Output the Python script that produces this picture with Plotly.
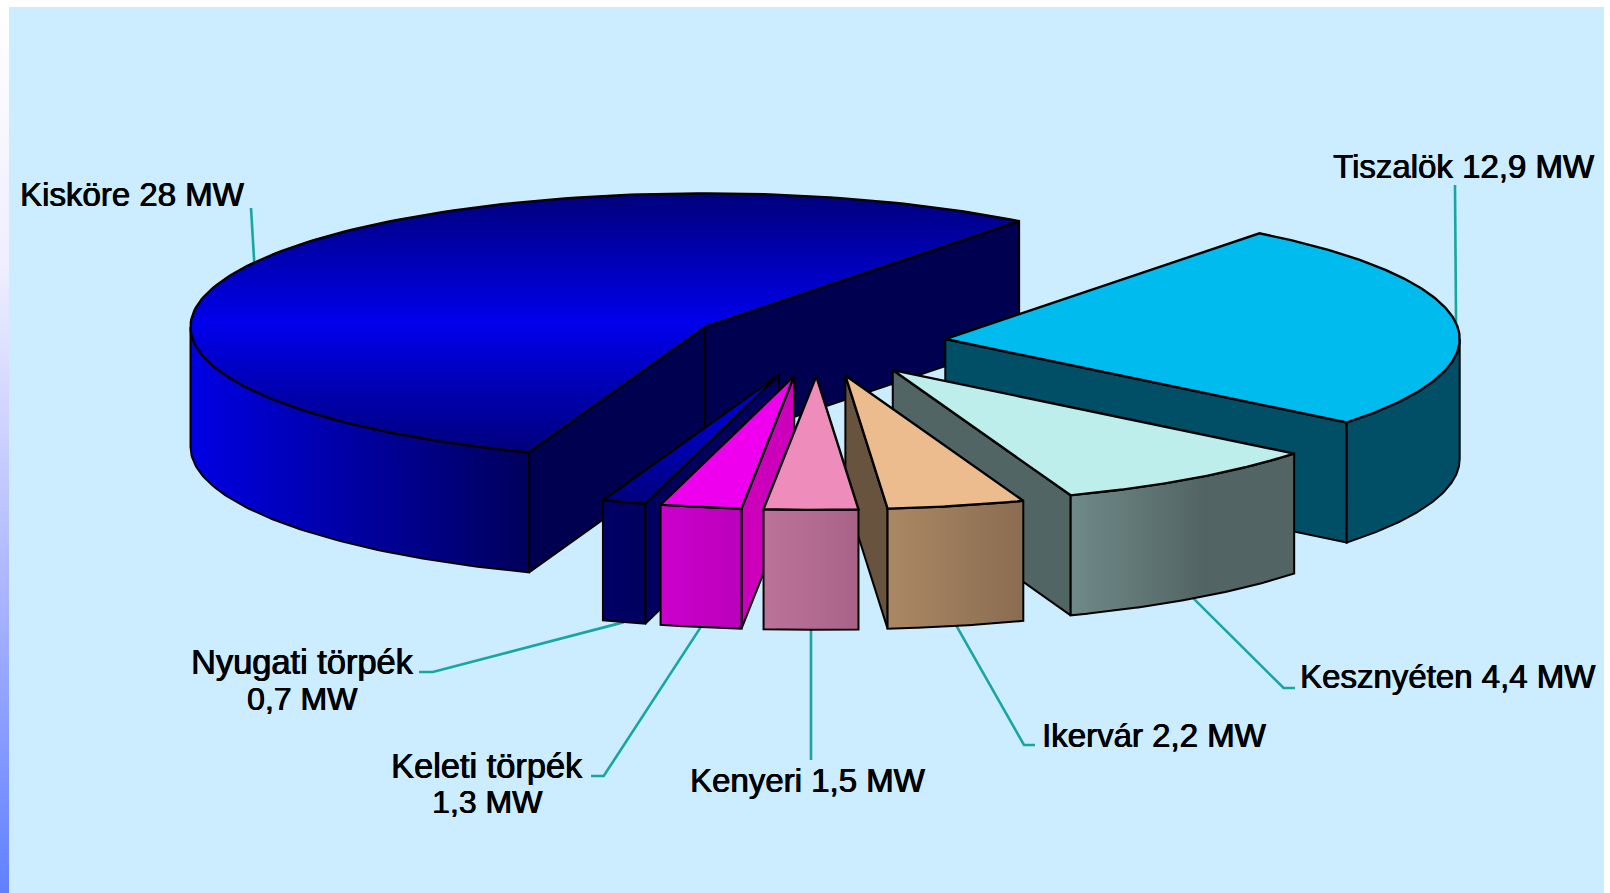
import numpy as np
import plotly.graph_objects as go

# Installed capacity per plant, in MW, clockwise from the first slice
plants = ["Kisköre", "Tiszalök", "Kesznyéten", "Ikervár", "Kenyeri", "Keleti törpék", "Nyugati törpék"]
capacity_mw = [28, 12.9, 4.4, 2.2, 1.5, 1.3, 0.7]
capacity_text = ["28", "12,9", "4,4", "2,2", "1,5", "1,3", "0,7"]

# Slice colours: top face gradient, front rim gradient, cut-side colour
top_scales = [
    [[0, "#00007C"], [0.5, "#0000EC"], [1, "#00007C"]],
    [[0, "#00BBEE"], [1, "#00BBEE"]],
    [[0, "#BDEEEC"], [1, "#BDEEEC"]],
    [[0, "#EDBC8E"], [1, "#EDBC8E"]],
    [[0, "#EE8DBB"], [1, "#EE8DBB"]],
    [[0, "#EE00EE"], [1, "#EE00EE"]],
    [[0, "#0000EE"], [1, "#00007C"]],
]
rim_scales = [
    [[0, "#0000E4"], [1, "#00005C"]],
    [[0, "#004F66"], [1, "#004F66"]],
    [[0, "#6F8A88"], [0.6, "#526463"], [1, "#526463"]],
    [[0, "#AB8865"], [1, "#8A6C50"]],
    [[0, "#BD7399"], [1, "#A86288"]],
    [[0, "#CC00CC"], [1, "#BB00BB"]],
    [[0, "#000066"], [1, "#000060"]],
]
side_colors = ["#000050", "#004F66", "#526565", "#67533E", "#A86288", "#CC00BB", "#00005E"]

# Pie projection, in page pixels
CENTER_X, CENTER_Y = 817.6, 343.0
RADIUS_X, RADIUS_Y = 514.4, 133.5
DEPTH = 120.0
EXPLODE = 0.25
FIRST_ANGLE = 250.0

LEADER_COLOR = "#18A5A5"
OUTLINE = "#000000"

# Label elbows: where each leader leaves its slice towards the text
leader_ends = [
    [(251, 208)],
    [(1455, 185)],
    [(1283.6, 688), (1295, 688)],
    [(1024, 745), (1035, 745)],
    [(811, 760)],
    [(603.7, 776), (591, 776)],
    [(432.8, 672), (419, 672)],
]

# One entry per text line: text, x, y, anchor, font size
label_lines = [
    (f"{plants[0]} {capacity_text[0]} MW", 18, 194, "left", 33),
    (f"{plants[1]} {capacity_text[1]} MW", 1331, 166, "left", 33),
    (f"{plants[2]} {capacity_text[2]} MW", 1298, 676, "left", 33),
    (f"{plants[3]} {capacity_text[3]} MW", 1040, 735, "left", 33),
    (f"{plants[4]} {capacity_text[4]} MW", 688, 780, "left", 33),
    (plants[5], 487, 766, "center", 34.4),
    (f"{capacity_text[5]} MW", 487, 802, "center", 32),
    (plants[6], 302, 662, "center", 34.4),
    (f"{capacity_text[6]} MW", 302, 699, "center", 32),
]


def rim_point(t_deg, cx, cy):
    t = np.radians(t_deg)
    return cx + RADIUS_X * np.cos(t), cy - RADIUS_Y * np.sin(t)


def add_poly(fig, xs, ys, fillcolor=None, gradient=None, width=2.0):
    kwargs = {"fillgradient": gradient} if gradient else {"fillcolor": fillcolor}
    fig.add_trace(go.Scatter(
        x=list(xs), y=list(ys), mode="lines", fill="toself",
        line=dict(color=OUTLINE, width=width), hoverinfo="skip", showlegend=False, **kwargs))


# Angular extent of each slice
fractions = np.array(capacity_mw) / sum(capacity_mw)
hi_angles = FIRST_ANGLE - 360 * np.concatenate([[0], np.cumsum(fractions)[:-1]])
lo_angles = hi_angles - 360 * fractions
mid_angles = (hi_angles + lo_angles) / 2

fig = go.Figure()

# Page background: white page, pale blue panel, shaded strip down the left edge
fig.add_trace(go.Scatter(
    x=[9, 1604, 1604, 9, 9], y=[7, 7, 893, 893, 7], mode="lines", fill="toself",
    fillcolor="#CCECFF", line=dict(width=0), hoverinfo="skip", showlegend=False))
fig.add_trace(go.Scatter(
    x=[0, 9, 9, 0, 0], y=[0, 0, 893, 893, 0], mode="lines", fill="toself",
    fillgradient=dict(type="vertical", start=0, stop=893,
                      colorscale=[[0, "#FFFFFF"], [0.3, "#EEEEFF"], [0.67, "#AAB4FF"], [1, "#6080FF"]]),
    line=dict(width=0), hoverinfo="skip", showlegend=False))

# Leaders sit under the slices and start on each slice's mid-angle rim
for i in range(len(plants)):
    m = np.radians(mid_angles[i])
    cx = CENTER_X + EXPLODE * RADIUS_X * np.cos(m)
    cy = CENTER_Y - EXPLODE * RADIUS_Y * np.sin(m)
    sx, sy = rim_point(mid_angles[i], cx, cy)
    if np.sin(m) < 0:
        sy += DEPTH
    path = [(sx, sy)] + leader_ends[i]
    fig.add_trace(go.Scatter(
        x=[p[0] for p in path], y=[p[1] for p in path], mode="lines",
        line=dict(color=LEADER_COLOR, width=2.6), hoverinfo="skip", showlegend=False))

# Paint slices from back to front
for i in sorted(range(len(plants)), key=lambda k: -np.sin(np.radians(mid_angles[k]))):
    m = np.radians(mid_angles[i])
    cx = CENTER_X + EXPLODE * RADIUS_X * np.cos(m)
    cy = CENTER_Y - EXPLODE * RADIUS_Y * np.sin(m)
    lo, hi = lo_angles[i], hi_angles[i]

    # Cut faces that turn towards the viewer
    if np.cos(np.radians(hi)) < 0:
        ex, ey = rim_point(hi, cx, cy)
        add_poly(fig, [cx, ex, ex, cx, cx], [cy, ey, ey + DEPTH, cy + DEPTH, cy], side_colors[i])
    if np.cos(np.radians(lo)) > 0:
        ex, ey = rim_point(lo, cx, cy)
        add_poly(fig, [cx, ex, ex, cx, cx], [cy, ey, ey + DEPTH, cy + DEPTH, cy], side_colors[i])

    # Outer rim, front half only
    for k in (-1, 0):
        a, b = max(lo, 180 + 360 * k), min(hi, 360 + 360 * k)
        if a < b:
            ts = np.linspace(a, b, 80)
            rx, ry = rim_point(ts, cx, cy)
            xs = np.concatenate([rx, rx[::-1], rx[:1]])
            ys = np.concatenate([ry, ry[::-1] + DEPTH, ry[:1]])
            add_poly(fig, xs, ys, gradient=dict(type="horizontal", start=float(rx.min()),
                                                stop=float(rx.max()), colorscale=rim_scales[i]))

    # Top face
    ts = np.linspace(lo, hi, 160)
    rx, ry = rim_point(ts, cx, cy)
    xs = np.concatenate([[cx], rx, [cx]])
    ys = np.concatenate([[cy], ry, [cy]])
    add_poly(fig, xs, ys, gradient=dict(type="vertical", start=float(ys.min()), stop=float(ys.max()),
                                        colorscale=top_scales[i]), width=2.4)

annotations = [
    dict(x=x, y=y, text=t, xref="x", yref="y", xanchor=anchor, yanchor="middle", showarrow=False,
         font=dict(family="Liberation Sans", size=size, color="#000000",
                   shadow="0.6px 0 0 #000000, -0.3px 0 0 #000000"))
    for t, x, y, anchor, size in label_lines
]

fig.update_layout(
    width=1610, height=893, margin=dict(l=0, r=0, t=0, b=0),
    paper_bgcolor="#FFFFFF", plot_bgcolor="rgba(0,0,0,0)", showlegend=False,
    xaxis=dict(range=[0, 1610], visible=False, fixedrange=True),
    yaxis=dict(range=[893, 0], visible=False, fixedrange=True),
    annotations=annotations,
)

fig.write_html("out.html", config={"displayModeBar": False})
